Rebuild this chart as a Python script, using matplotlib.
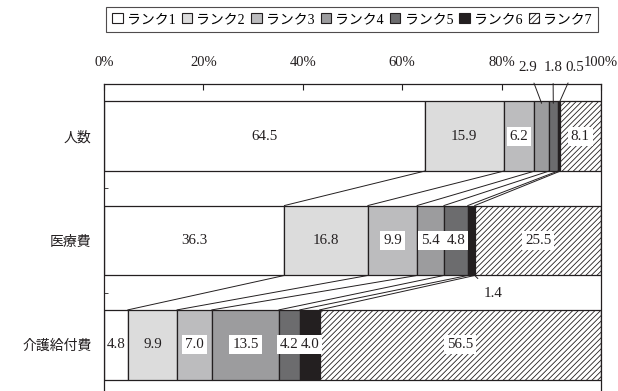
import matplotlib
matplotlib.use('Agg')
import matplotlib.pyplot as plt
import matplotlib.patches as mpatches
import numpy as np

plt.rcParams['font.family'] = ['Liberation Serif', 'Noto Sans CJK JP']
plt.rcParams['font.size'] = 10
plt.rcParams['hatch.linewidth'] = 0.6

# データ
categories = ['人数', '医療費', '介護給付費']
ranks = ['ランク1', 'ランク2', 'ランク3', 'ランク4', 'ランク5', 'ランク6', 'ランク7']
shares = [
    [64.5, 15.9, 6.2, 2.9, 1.8, 0.5, 8.1],
    [36.3, 16.8, 9.9, 5.4, 4.8, 1.4, 25.5],
    [4.8, 9.9, 7.0, 13.5, 4.2, 4.0, 56.5],
]
x_ticks = [0, 20, 40, 60, 80, 100]

colors = ['#ffffff', '#dcdcdc', '#bcbcbe', '#9c9c9e', '#6c6c6e', '#231f20', '#ffffff']
hatches = [None, None, None, None, None, None, '//////']
# ラベルに白い背景を付けるか（None = 外に表示）
boxed = [
    [False, False, True, None, None, None, True],
    [False, False, True, True, True, None, True],
    [False, False, True, True, True, True, True],
]

fig = plt.figure(figsize=(6.18, 3.91), dpi=100)
ax = fig.add_axes([104 / 618, -6 / 391, 497 / 618, 313 / 391])

bar_h = 0.67
num_fs = 10.8
for i, row in enumerate(shares):
    left = 0
    for j, v in enumerate(row):
        ax.barh(i, v, left=left, height=bar_h, color=colors[j], hatch=hatches[j],
                edgecolor='#231f20', linewidth=0.9)
        flag = boxed[i][j]
        if flag is not None:
            bb = dict(boxstyle='square,pad=0.2', facecolor='white', edgecolor='none') if flag else None
            ax.text(left + v / 2, i, f'{v:.1f}', ha='center', va='center', fontsize=num_fs,
                    color='#231f20', bbox=bb)
        left += v

# 小さい値のラベル（引き出し線）
cum0 = np.cumsum(shares[0])
small_pos = [(3, 528), (4, 553), (5, 575)]
for j, xt in small_pos:
    xc = (cum0[j] - shares[0][j] / 2)
    ax.annotate(f'{shares[0][j]:.1f}', xy=(xc, -bar_h / 2 + 0.02),
                xytext=((xt - 104) / 497 * 100, -0.66), ha='center', va='center',
                fontsize=num_fs, color='#231f20', annotation_clip=False,
                arrowprops=dict(arrowstyle='-', color='#231f20', lw=0.7, shrinkA=5, shrinkB=0))
cum1 = np.cumsum(shares[1])
ax.annotate(f'{shares[1][5]:.1f}', xy=(cum1[5], 1 + bar_h / 2),
            xytext=((493 - 104) / 497 * 100, 1.51), ha='center', va='center',
            fontsize=num_fs, color='#231f20', annotation_clip=False,
            arrowprops=dict(arrowstyle='-', color='#231f20', lw=0.7, shrinkA=6, shrinkB=0))

# 行間をつなぐ線
for i in range(len(shares) - 1):
    a = np.cumsum(shares[i])[:-1]
    b = np.cumsum(shares[i + 1])[:-1]
    for xa, xb in zip(a, b):
        ax.plot([xa, xb], [i + bar_h / 2, i + 1 - bar_h / 2], color='#231f20', lw=0.7)

ax.set_xlim(0, 100)
ax.set_ylim(2.5, -0.5)
ax.xaxis.tick_top()
ax.set_xticks(x_ticks)
ax.set_xticklabels([f'{t}%' for t in x_ticks])
ax.tick_params(axis='x', direction='in', length=4, pad=11, labelsize=10.5, colors='#231f20')
ax.set_yticks(range(len(categories)))
ax.set_yticklabels(categories)
ax.tick_params(axis='y', which='major', length=0, pad=9, labelsize=10, colors='#231f20')
ax.set_yticks([0.5, 1.5], minor=True)
ax.tick_params(axis='y', which='minor', direction='in', length=3, color='#231f20')
for s in ['top', 'left', 'right', 'bottom']:
    ax.spines[s].set_color('#231f20')
    ax.spines[s].set_linewidth(0.9)

handles = [mpatches.Patch(facecolor=colors[k], edgecolor='#231f20', hatch=hatches[k],
                          linewidth=0.8, label=ranks[k]) for k in range(len(ranks))]
leg = fig.legend(handles=handles, loc='upper center', bbox_to_anchor=(352 / 618, 0.983),
                 ncol=7, fontsize=10, frameon=True, fancybox=False, edgecolor='#231f20',
                 handlelength=0.75, handleheight=0.75, handletextpad=0.3,
                 columnspacing=0.45, borderpad=0.45, borderaxespad=0)
leg.get_frame().set_linewidth(0.8)

fig.savefig('out.png', dpi=100, facecolor='white')
